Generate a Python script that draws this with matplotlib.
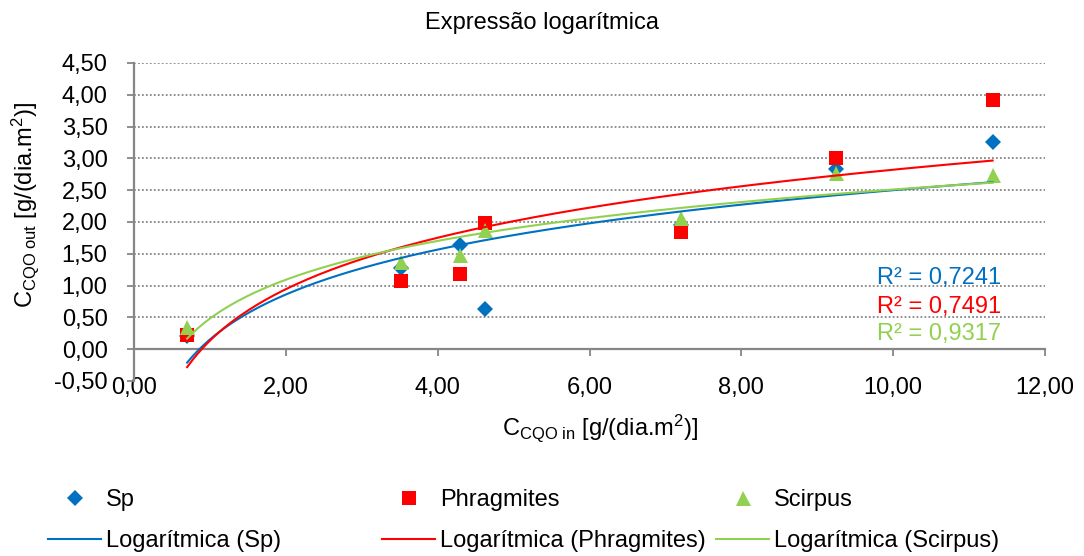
import matplotlib
matplotlib.use('Agg')
import matplotlib.pyplot as plt
import numpy as np
from matplotlib.ticker import FuncFormatter
from matplotlib.lines import Line2D

plt.rcParams['font.family'] = ['Liberation Sans', 'DejaVu Sans']
plt.rcParams['mathtext.fontset'] = 'custom'
plt.rcParams['mathtext.rm'] = 'Liberation Sans'
plt.rcParams['mathtext.it'] = 'Liberation Sans:italic'
plt.rcParams['mathtext.bf'] = 'Liberation Sans:bold'

# ---- data ----
x_in = [0.70, 3.52, 4.30, 4.63, 7.21, 9.25, 11.31]
sp = [0.21, 1.28, 1.635, 0.63, 1.95, 2.84, 3.25]
phragmites = [0.23, 1.07, 1.18, 1.98, 1.84, 3.00, 3.92]
scirpus = [0.35, 1.37, 1.48, 1.87, 2.06, 2.77, 2.74]
series_names = ['Sp', 'Phragmites', 'Scirpus']
r2_labels = ['R² = 0,7241', 'R² = 0,7491', 'R² = 0,9317']
x_ticks = [0, 2, 4, 6, 8, 10, 12]
y_ticks = [-0.5, 0.0, 0.5, 1.0, 1.5, 2.0, 2.5, 3.0, 3.5, 4.0, 4.5]

colors = ['#0070C0', '#FF0000', '#92D050']
markers = ['D', 's', '^']
msizes = [8, 9.5, 10.8]
FS = 17

W, H = 1084, 556
fig = plt.figure(figsize=(W / 100, H / 100), dpi=100)
ax = fig.add_axes([134 / W, 1 - 381 / H, (1045 - 134) / W, (381 - 63) / H])

ys = [sp, phragmites, scirpus]
x_arr = np.array(x_in)
xx = np.linspace(x_arr.min(), x_arr.max(), 300)
for i, y in enumerate(ys):
    ax.plot(x_in, y, linestyle='None', marker=markers[i], ms=msizes[i],
            color=colors[i], markeredgewidth=0, zorder=3 + i * 0.1)
for i, y in enumerate(ys):
    b, a = np.polyfit(np.log(x_arr), np.array(y), 1)
    ax.plot(xx, a + b * np.log(xx), color=colors[i], lw=1.5, zorder=4 + i * 0.1)

ax.set_xlim(0, 12)
ax.set_ylim(-0.5, 4.5)
ax.set_xticks(x_ticks)
ax.set_yticks(y_ticks)
fmt = FuncFormatter(lambda v, p: f"{v:.2f}".replace('.', ','))
ax.xaxis.set_major_formatter(fmt)
ax.yaxis.set_major_formatter(fmt)

grid_color = '#868686'
ax.hlines(y_ticks[2:], 0, 12, colors=grid_color, linestyles=(0, (1, 1.2)),
          lw=1.3, zorder=1)

for s in ['top', 'right']:
    ax.spines[s].set_visible(False)
ax.spines['bottom'].set_position(('data', 0))
for s in ['left', 'bottom']:
    ax.spines[s].set_color(grid_color)
    ax.spines[s].set_linewidth(1.6)
ax.tick_params(axis='both', direction='out', length=5, width=1.3,
               color=grid_color, labelsize=FS, labelcolor='black')
ax.tick_params(axis='x', pad=15)
ax.tick_params(axis='y', pad=14)

ax.text(0.512, -0.148, r'$\mathregular{C_{CQO\ in}}$ [g/(dia.m$\mathregular{^2}$)]',
        transform=ax.transAxes, ha='center', va='center', fontsize=FS)
fig.text(25 / W, 1 - 205 / H, r'$\mathregular{C_{CQO\ out}}$ [g/(dia.m$\mathregular{^2}$)]',
         rotation=90, ha='center', va='center', fontsize=FS)
fig.text(0.5, 1 - 23 / H, 'Expressão logarítmica', ha='center', va='center', fontsize=FS)

r2_y = [278, 307, 334]
for i in range(3):
    fig.text(1001 / W, 1 - r2_y[i] / H, r2_labels[i], color=colors[i],
             ha='right', va='center', fontsize=FS)

leg_x = [48, 382, 716]
for i in range(3):
    h1 = Line2D([], [], linestyle='None', marker=markers[i], ms=msizes[i],
                color=colors[i], markeredgewidth=0)
    h2 = Line2D([], [], color=colors[i], lw=1.5)
    fig.legend([h1, h2], [series_names[i], f'Logarítmica ({series_names[i]})'],
               loc='upper left', bbox_to_anchor=(leg_x[i] / W, 1 - 489 / H),
               frameon=False, borderpad=0, borderaxespad=0, fontsize=FS,
               handlelength=2.25, handletextpad=0.2, labelspacing=0.8,
               numpoints=1)

fig.savefig('out.png', dpi=100)
